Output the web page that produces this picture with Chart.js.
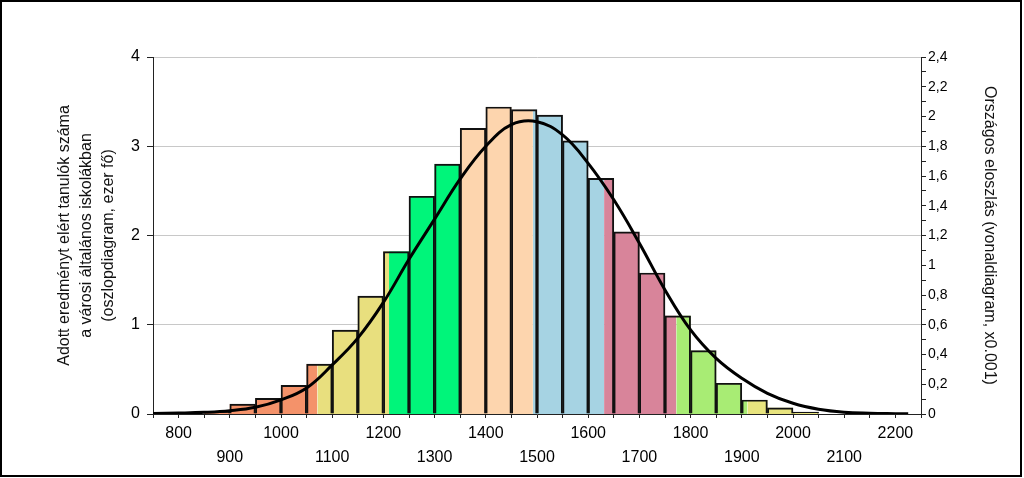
<!DOCTYPE html>
<html>
<head>
<meta charset="utf-8">
<script src="https://cdn.jsdelivr.net/npm/chart.js"></script>
<style>
  html, body { margin: 0; padding: 0; background: #fff; overflow: hidden; }
  #wrap { width: 1024px; height: 478px; position: relative; }
</style>
</head>
<body>
<div id="wrap"><canvas id="c" width="1024" height="478"></canvas></div>
<script>
// ---- Data ----
// Histogram bins: left edge of each score bin (bin width 50 points)
const binStarts = [850, 900, 950, 1000, 1050, 1100, 1150, 1200, 1250, 1300, 1350, 1400,
                   1450, 1500, 1550, 1600, 1650, 1700, 1750, 1800, 1850, 1900, 1950, 2000];
const binWidth = 50;
// Number of students in city primary schools (thousand)
const studentCounts = [0.03, 0.11, 0.175, 0.32, 0.56, 0.94, 1.32, 1.82, 2.44, 2.80, 3.20, 3.44,
                       3.41, 3.35, 3.06, 2.64, 2.04, 1.58, 1.10, 0.71, 0.345, 0.157, 0.07, 0.022];
// Proficiency level boundaries (score points) and their fill colours
const levelBounds = [1071, 1211, 1350, 1492, 1631, 1772, 1911];
const levelColors = ['#F4926A', '#E8DF7E', '#00F57A', '#FDD5AE', '#A6D3E3', '#D8849A', '#A8EC74', '#E8E47E'];
// National distribution curve (x0.001)
const curveX = [750, 800, 850, 900, 950, 1000, 1050, 1100, 1150, 1200, 1250, 1300, 1350, 1400,
                1450, 1500, 1550, 1600, 1650, 1700, 1750, 1800, 1850, 1900, 1950, 2000,
                2050, 2100, 2150, 2200, 2225];
const curveY = [0.003, 0.006, 0.011, 0.022, 0.045, 0.095, 0.175, 0.33, 0.51, 0.75, 1.04, 1.31,
                1.58, 1.80, 1.945, 1.965, 1.876, 1.685, 1.44, 1.148, 0.834, 0.565, 0.374,
                0.24, 0.139, 0.072, 0.032, 0.012, 0.005, 0.002, 0.001];
// Axis labels
const leftTitle = ['Adott eredményt elért tanulók száma', 'a városi általános iskolákban', '(oszlopdiagram, ezer fő)'];
const rightTitle = 'Országos eloszlás (vonaldiagram, x0.001)';

// ---- Build datasets ----
const histStart = binStarts[0];
const histEnd = binStarts[binStarts.length - 1] + binWidth;
function heightAt(x) {
  let i = Math.floor((x - histStart) / binWidth);
  i = Math.max(0, Math.min(binStarts.length - 1, i));
  return studentCounts[i];
}
const fillSets = levelColors.map((col, i) => {
  const a = i === 0 ? histStart : levelBounds[i - 1];
  const b = i === levelBounds.length ? histEnd : levelBounds[i];
  const pts = [{x: a, y: heightAt(a)}];
  binStarts.forEach(s => { if (s > a && s < b) pts.push({x: s, y: heightAt(s)}); });
  pts.push({x: b, y: heightAt(b - 0.001)});
  return {
    type: 'line', data: pts, yAxisID: 'y', stepped: true, fill: 'origin',
    backgroundColor: col, borderColor: 'rgba(0,0,0,0)', borderWidth: 0,
    pointRadius: 0, order: 3
  };
});
const outlineSet = {
  type: 'bar', yAxisID: 'y',
  data: binStarts.map((s, i) => ({x: s + binWidth / 2, y: studentCounts[i]})),
  backgroundColor: 'rgba(0,0,0,0)', borderColor: '#111', borderWidth: 1.3,
  barPercentage: 1, categoryPercentage: 1, order: 2
};
const curveSet = {
  type: 'line', yAxisID: 'y2',
  data: curveX.map((x, i) => ({x, y: curveY[i]})),
  borderColor: '#000', borderWidth: 3, pointRadius: 0, fill: false,
  tension: 0.4, order: 0
};

const framePlugin = {
  id: 'frame',
  afterDraw(chart) {
    const ctx = chart.ctx;
    ctx.save();
    ctx.strokeStyle = '#000';
    ctx.lineWidth = 2;
    ctx.strokeRect(1, 1, 1020, 475);
    ctx.restore();
  }
};

Chart.defaults.font.family = '"Liberation Sans", Arial, sans-serif';
Chart.defaults.color = '#000';

new Chart(document.getElementById('c'), {
  type: 'bar',
  data: { datasets: [...fillSets, outlineSet, curveSet] },
  plugins: [framePlugin],
  options: {
    responsive: false,
    animation: false,
    layout: { padding: { top: 57, left: 0, right: 0, bottom: 0 } },
    plugins: { legend: { display: false }, tooltip: { enabled: false } },
    scales: {
      x: {
        type: 'linear', min: 750, max: 2250, offset: false,
        grid: { display: true, drawOnChartArea: false, offset: false, tickLength: 4, tickColor: '#222' },
        border: { color: '#222', width: 1 },
        ticks: {
          stepSize: 50, autoSkip: false, maxRotation: 0, minRotation: 0, padding: 3.5,
          font: { size: 16, lineHeight: 1.5 },
          callback: v => {
            if (v % 100 !== 0 || v < 800 || v > 2200) return '';
            return (v / 100) % 2 === 0 ? String(v) : ['', String(v)];
          }
        },
        afterFit: s => { s.height = 64; }
      },
      y: {
        position: 'left', min: 0, max: 4,
        grid: { color: '#c8c8c8', lineWidth: 1, tickLength: 6, tickColor: '#222' },
        border: { color: '#222', width: 1 },
        ticks: { stepSize: 1, padding: 7, font: { size: 16 }, callback: v => String(v) },
        title: {
          display: true, text: leftTitle, font: { size: 16, lineHeight: 1.375 },
          padding: { top: 53.5, bottom: 0 }, color: '#111'
        },
        afterFit: s => { s.width = 153; }
      },
      y2: {
        position: 'right', min: 0, max: 2.4,
        grid: { drawOnChartArea: false, tickLength: 5, tickColor: '#222' },
        border: { color: '#222', width: 1 },
        ticks: {
          stepSize: 0.1, autoSkip: false, padding: 2, font: { size: 14 },
          callback: v => {
            const t = Math.round(v * 10);
            if (t % 2 !== 0) return '';
            return String(t / 10).replace('.', ',');
          }
        },
        title: {
          display: true, text: rightTitle, font: { size: 16, lineHeight: 1.375 },
          padding: { top: 24, bottom: 0 }, color: '#111'
        },
        afterFit: s => { s.width = 103; }
      }
    }
  }
});
</script>
</body>
</html>
